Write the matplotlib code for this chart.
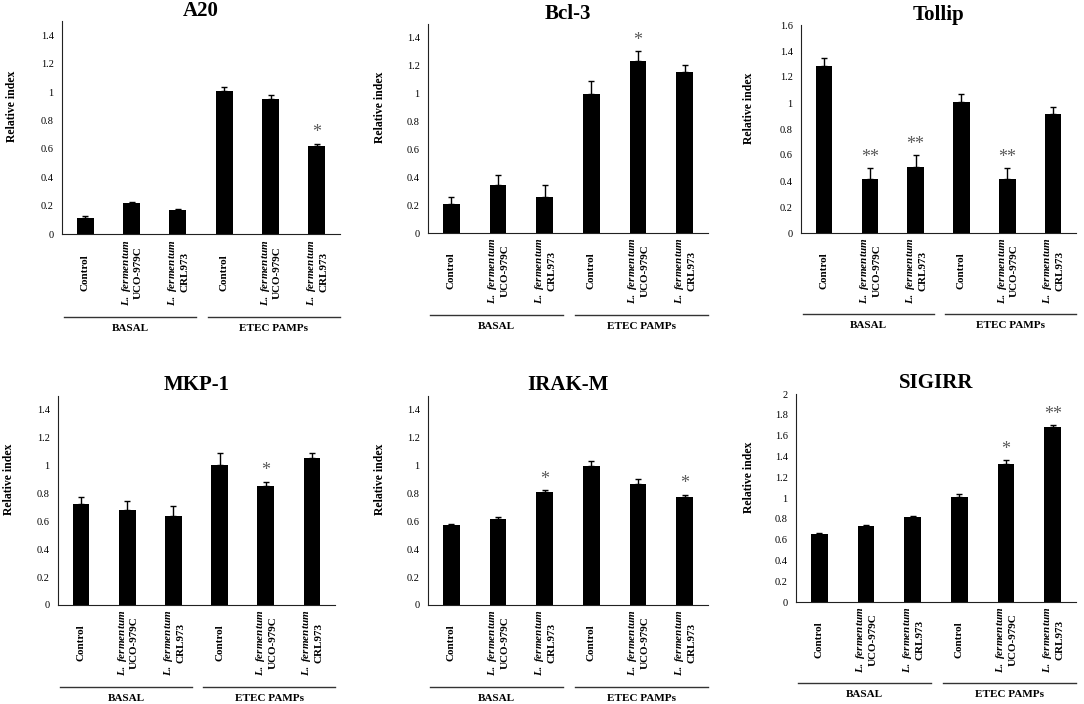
import numpy as np
import matplotlib
matplotlib.use('Agg')
import matplotlib.pyplot as plt
from matplotlib.ticker import FuncFormatter
import matplotlib.transforms as mtransforms

plt.rcParams['font.family'] = ['Liberation Serif', 'DejaVu Serif']
plt.rcParams['mathtext.fontset'] = 'custom'
plt.rcParams['mathtext.rm'] = 'Liberation Serif:bold'
plt.rcParams['mathtext.it'] = 'Liberation Serif:italic:bold'

categories = ['Control',
              r'$\mathit{L.\ fermentum}$' + '\nUCO-979C',
              r'$\mathit{L.\ fermentum}$' + '\nCRL973',
              'Control',
              r'$\mathit{L.\ fermentum}$' + '\nUCO-979C',
              r'$\mathit{L.\ fermentum}$' + '\nCRL973']
groups = ['BASAL', 'ETEC PAMPs']

genes = ['A20', 'Bcl-3', 'Tollip', 'MKP-1', 'IRAK-M', 'SIGIRR']

a20_vals = [0.11, 0.217, 0.166, 1.006, 0.95, 0.618]
a20_err = [0.015, 0.007, 0.011, 0.03, 0.028, 0.019]
a20_sig = ['', '', '', '', '', '*']

bcl3_vals = [0.209, 0.342, 0.26, 1.0, 1.234, 1.159]
bcl3_err = [0.048, 0.072, 0.082, 0.092, 0.072, 0.046]
bcl3_sig = ['', '', '', '', '*', '']

tollip_vals = [1.283, 0.415, 0.507, 1.004, 0.417, 0.914]
tollip_err = [0.061, 0.087, 0.095, 0.069, 0.085, 0.056]
tollip_sig = ['', '**', '**', '', '**', '']

mkp1_vals = [0.725, 0.684, 0.636, 1.004, 0.857, 1.052]
mkp1_err = [0.051, 0.06, 0.077, 0.084, 0.029, 0.036]
mkp1_sig = ['', '', '', '', '*', '']

irakm_vals = [0.572, 0.617, 0.809, 0.999, 0.869, 0.773]
irakm_err = [0.012, 0.012, 0.015, 0.031, 0.036, 0.02]
irakm_sig = ['', '', '*', '', '', '*']

sigirr_vals = [0.657, 0.731, 0.816, 1.01, 1.33, 1.683]
sigirr_err = [0.01, 0.01, 0.009, 0.032, 0.036, 0.019]
sigirr_sig = ['', '', '', '', '*', '**']

panel_vals = [a20_vals, bcl3_vals, tollip_vals, mkp1_vals, irakm_vals, sigirr_vals]
panel_err = [a20_err, bcl3_err, tollip_err, mkp1_err, irakm_err, sigirr_err]
panel_sig = [a20_sig, bcl3_sig, tollip_sig, mkp1_sig, irakm_sig, sigirr_sig]
ymax = [1.5, 1.5, 1.6, 1.5, 1.5, 2.0]
ytop_tick = [1.4, 1.4, 1.6, 1.4, 1.4, 2.0]

W, H = 1084, 704
# axes boxes in pixels: left, right, top, bottom
boxes = [(62, 340, 21, 234), (428, 708, 24, 233), (801, 1076, 25, 233),
         (58, 335, 396, 605), (428, 708, 396, 605), (796, 1076, 394, 602)]
ylabel_x = [-0.158, -0.15, -0.167, -0.155, -0.15, -0.146]

fig = plt.figure(figsize=(W / 100, H / 100), dpi=100)

for i, gene in enumerate(genes):
    l, r, t, b = boxes[i]
    ax = fig.add_axes([l / W, 1 - b / H, (r - l) / W, (b - t) / H])
    x = np.arange(len(categories))
    vals = panel_vals[i]
    errs = panel_err[i]
    ax.bar(x, vals, width=0.36, color='black')
    ax.errorbar(x, vals, yerr=[np.zeros(len(errs)), errs], fmt='none',
                ecolor='black', elinewidth=1, capsize=2.5, capthick=1)
    for xi, v, e, s in zip(x, vals, errs, panel_sig[i]):
        if s:
            ax.annotate(s, (xi, v + e), xytext=(0, 1.5), textcoords='offset points',
                        ha='center', va='bottom', fontsize=13, color='#595959')

    ax.set_xlim(-0.5, 5.5)
    ax.set_ylim(0, ymax[i])
    ax.set_yticks(np.arange(0, ytop_tick[i] + 0.01, 0.2))
    ax.yaxis.set_major_formatter(FuncFormatter(lambda v, p: '%g' % round(v, 1)))
    ax.tick_params(axis='y', length=0, pad=6, labelsize=7.5)
    ax.set_xticks([])
    for sp in ['top', 'right']:
        ax.spines[sp].set_visible(False)
    ax.spines['left'].set_color('#222222')
    ax.spines['bottom'].set_color('#222222')

    ax.set_ylabel('Relative index', fontsize=8.5, fontweight='bold')
    ax.yaxis.set_label_coords(ylabel_x[i], 0.6)
    ax.set_title(gene, fontsize=15, fontweight='bold', pad=2 if i < 3 else 4)

    trans = mtransforms.blended_transform_factory(ax.transData, ax.transAxes)
    for xi, lab in zip(x, categories):
        ax.text(xi, -0.18, lab, transform=trans, rotation=90, ha='center',
                va='center', multialignment='center', fontsize=8, fontweight='bold')

    for (x0, x1), g in zip([(-0.45, 2.4), (2.65, 5.5)], groups):
        ax.plot([x0, x1], [-0.39, -0.39], transform=trans, color='#333333',
                lw=1, clip_on=False)
        ax.text((x0 + x1) / 2, -0.445, g, transform=trans, ha='center', va='center',
                fontsize=8, fontweight='bold')

fig.savefig('out.png', dpi=100)
